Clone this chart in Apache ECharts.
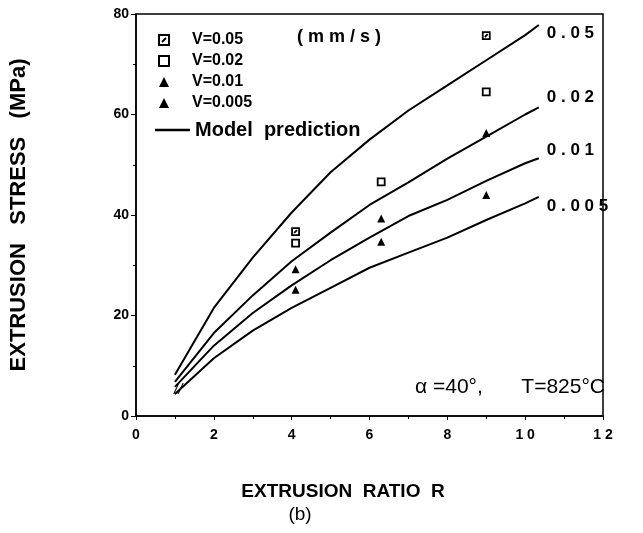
<!DOCTYPE html>
<html>
<head>
<meta charset="utf-8">
<script src="https://cdn.jsdelivr.net/npm/echarts@6/dist/echarts.min.js"></script>
<style>html,body{margin:0;padding:0;background:#fff}#c{width:643px;height:533px}</style>
</head>
<body>
<div id="c"></div>
<script>
// ---- data ----
const modelR = [1, 2, 3, 4, 5, 6, 7, 8, 9, 10, 10.35];
const model005 = [8.2, 21.5, 31.5, 40.5, 48.5, 55, 60.8, 65.8, 70.8, 75.8, 77.8];
const model002 = [6.8, 16.5, 24, 30.8, 36.5, 42, 46.5, 51.2, 55.6, 60, 61.4];
const model001 = [5.8, 14, 20.5, 26, 31, 35.5, 39.8, 43, 46.8, 50.3, 51.3];
const model0005 = [4.4, 11.5, 17, 21.5, 25.5, 29.5, 32.5, 35.5, 39, 42.3, 43.6];
const curveLabels = ['0 . 0 5', '0 . 0 2', '0 . 0 1', '0 . 0 0 5'];

const expR005 = [4.1, 9];
const exp005 = [36.7, 75.7];
const expR002 = [4.1, 6.3, 9];
const exp002 = [34.4, 46.6, 64.5];
const expR001 = [4.1, 6.3, 9];
const exp001 = [29.2, 39.3, 56.3];
const expR0005 = [4.1, 6.3, 9];
const exp0005 = [25.1, 34.7, 44.0];

const xTicks = [0, 2, 4, 6, 8, 10, 12];
const yTicks = [0, 20, 40, 60, 80];

const FONT = '"Liberation Sans", Arial, sans-serif';
const zip = (a, b) => a.map((v, i) => [v, b[i]]);

const lineSeries = (name, ys, label, off) => ({
  name: name, type: 'line', data: zip(modelR, ys), symbol: 'none', smooth: false,
  lineStyle: { color: '#000', width: 2 }, itemStyle: { color: '#000' },
  silent: true, z: 2,
  endLabel: { show: true, formatter: label, color: '#000', fontFamily: FONT,
    fontSize: 17, fontWeight: 'bold', offset: off, align: 'left' }
});

const sqMarked = 'path://M0,0 L10,0 L10,10 L0,10 Z M3,7 L7,3';
const scatter = (name, xs, ys, symbol, size, fill, bw) => ({
  name: name, type: 'scatter', data: zip(xs, ys), symbol: symbol, symbolSize: size,
  itemStyle: { color: fill, borderColor: '#000', borderWidth: bw, opacity: 1 }, z: 5
});

const chart = echarts.init(document.getElementById('c'));
chart.setOption({
  animation: false,
  backgroundColor: '#fff',
  textStyle: { fontFamily: FONT },
  grid: { left: 132, top: 14, right: 40, bottom: 117, show: true, borderColor: '#000', borderWidth: 1.5 },
  xAxis: {
    type: 'value', min: 0, max: 12, interval: 2,
    axisLine: { lineStyle: { color: '#000', width: 1.5 } },
    axisTick: { show: true, length: 4, lineStyle: { color: '#000' } },
    minorTick: { show: true, splitNumber: 2, length: 3, lineStyle: { color: '#000' } },
    splitLine: { show: false },
    axisLabel: { color: '#000', fontSize: 14, fontWeight: 'bold', margin: 12,
      formatter: v => xTicks.includes(v) ? String(v).split('').join(' ') : '' }
  },
  yAxis: {
    type: 'value', min: 0, max: 80, interval: 20,
    name: 'EXTRUSION   STRESS   (MPa)', nameLocation: 'middle', nameGap: 106, nameRotate: 90,
    nameTextStyle: { color: '#000', fontSize: 22, fontWeight: 'bold', fontFamily: FONT },
    axisLine: { lineStyle: { color: '#000', width: 1.5 } },
    axisTick: { show: true, length: 5, lineStyle: { color: '#000' } },
    minorTick: { show: true, splitNumber: 2, length: 3, lineStyle: { color: '#000' } },
    splitLine: { show: false },
    axisLabel: { color: '#000', fontSize: 14, fontWeight: 'bold', margin: 7,
      formatter: v => yTicks.includes(v) ? String(v) : '' }
  },
  legend: [
    {
      data: ['V=0.05', 'V=0.02', 'V=0.01', 'V=0.005'],
      orient: 'vertical', left: 153, top: 27, itemWidth: 10, itemHeight: 10, itemGap: 5,
      textStyle: { color: '#000', fontSize: 16, fontWeight: 'bold', fontFamily: FONT, padding: [0, 0, 0, 18] },
      selectedMode: false
    },
    {
      data: [{ name: 'Model prediction', icon: 'rect' }], orient: 'vertical', left: 150, top: 115,
      itemWidth: 35, itemHeight: 2.5,
      formatter: () => 'Model  prediction',
      textStyle: { color: '#000', fontSize: 20, fontWeight: 'bold', fontFamily: FONT, padding: [0, 0, 0, 0] },
      selectedMode: false
    }
  ],
  graphic: [
    { type: 'text', left: 297, top: 28, style: { text: '( m m / s )', fill: '#000', font: 'bold 18px ' + FONT } },
    { type: 'text', left: 415, top: 377, style: { text: 'α =40°,', fill: '#000', font: '21px ' + FONT } },
    { type: 'text', right: 38, top: 377, style: { text: 'T=825°C', fill: '#000', font: '21px ' + FONT } },
    { type: 'text', x: 343, y: 492, style: { text: 'EXTRUSION  RATIO  R', fill: '#000', font: 'bold 19px ' + FONT, align: 'center', verticalAlign: 'middle' } },
    { type: 'text', x: 300, y: 515, style: { text: '(b)', fill: '#000', font: '19px ' + FONT, align: 'center', verticalAlign: 'middle' } },
    { type: 'text', left: 174, top: 382, style: { text: '//', fill: '#000', font: 'italic 15px ' + FONT } }
  ],
  series: [
    lineSeries('Model prediction', model005, curveLabels[0], [0, 8]),
    lineSeries('m002', model002, curveLabels[1], [0, -10]),
    lineSeries('m001', model001, curveLabels[2], [0, -8]),
    lineSeries('m0005', model0005, curveLabels[3], [0, 9]),
    scatter('V=0.05', expR005, exp005, sqMarked, 7, '#fff', 1.8),
    scatter('V=0.02', expR002, exp002, 'rect', 7, '#fff', 1.8),
    scatter('V=0.01', expR001, exp001, 'triangle', 8, '#000', 0),
    scatter('V=0.005', expR0005, exp0005, 'triangle', 8, '#000', 0)
  ]
});
</script>
</body>
</html>
